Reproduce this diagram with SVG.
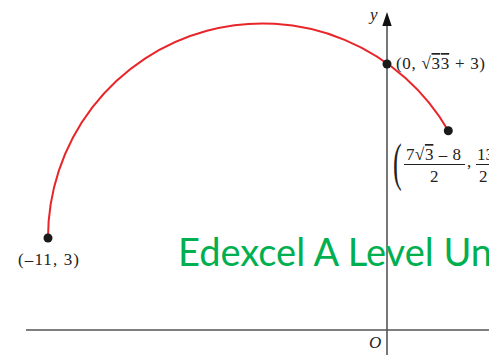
<svg xmlns="http://www.w3.org/2000/svg" width="489" height="355" viewBox="0 0 489 355">
<style>
.ax{stroke:#555;stroke-width:1.6;fill:none}
.lbl{font-family:"Liberation Serif",serif;font-size:17px;fill:#222}
.it{font-style:italic}
.dot{fill:#1a1a1a}
.bar{stroke:#222;stroke-width:1}
</style>
<rect width="489" height="355" fill="#fff"/>
<g id="axes">
<line class="ax" x1="26" y1="330" x2="492" y2="330"/>
<line class="ax" x1="387" y1="355" x2="387" y2="22"/>
<path d="M382.3,26 L387,12 L391.7,26 Z" fill="#111"/>
</g>
<g id="connectors">
<path d="M48,238 A214.5,214.5 0 0 1 448.3,130.8" fill="none" stroke="#e8262a" stroke-width="2"/>
</g>
<g id="p1"><circle class="dot" cx="48" cy="238" r="4.5"/><text class="lbl" x="18" y="265" textLength="61">(–11, 3)</text></g>
<g id="p2"><circle class="dot" cx="387" cy="64" r="4.5"/><text class="lbl" x="396" y="69" textLength="89">(0, √<tspan text-decoration="overline">33</tspan> + 3)</text></g>
<g id="p3"><circle class="dot" cx="448.3" cy="130.8" r="4.5"/>
<text class="lbl" style="font-size:52px" x="0" y="0" transform="translate(393 180) scale(0.5 1)">(</text>
<text class="lbl" x="406" y="160" textLength="55">7√<tspan text-decoration="overline">3</tspan> – 8</text>
<line class="bar" x1="404" y1="164.5" x2="465" y2="164.5"/>
<text class="lbl" x="430" y="182">2</text>
<text class="lbl" x="467" y="167">,</text>
<text class="lbl" x="477" y="160">13</text>
<line class="bar" x1="476" y1="164.5" x2="495" y2="164.5"/>
<text class="lbl" x="479" y="182">2</text>
</g>
<g id="lbl-y"><text class="lbl it" x="370" y="20">y</text></g>
<g id="lbl-o"><text class="lbl it" x="369" y="348">O</text></g>
<text x="178" y="266" font-family="Lato,'Open Sans',sans-serif" font-size="38" fill="#00b050">Edexcel A Level Un</text>
</svg>
